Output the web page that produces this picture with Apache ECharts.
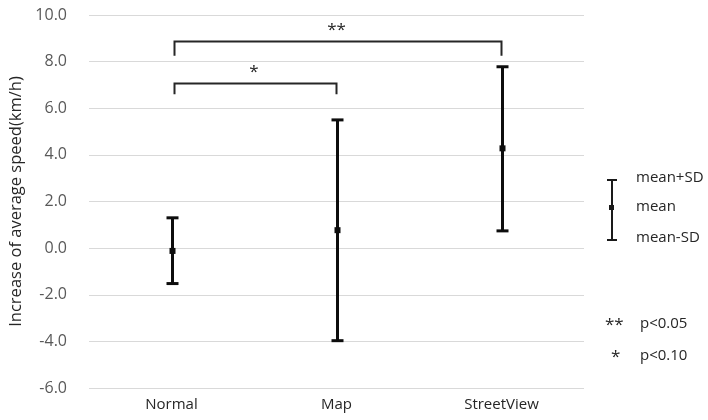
<!DOCTYPE html>
<html><head><meta charset="utf-8">
<script src="https://cdn.jsdelivr.net/npm/echarts@6/dist/echarts.min.js"></script>
<style>html,body{margin:0;padding:0;background:#fff}#c{width:708px;height:420px}</style>
</head><body><div id="c"></div>
<script>
// ---- data ----
var categories = ['Normal', 'Map', 'StreetView'];
var means = [-0.12, 0.77, 4.28];
var upper = [1.30, 5.50, 7.78];
var lower = [-1.52, -3.97, 0.74];
var yTicks = { min: -6, max: 10, interval: 2 };
// significance brackets
var bracketFrom = [0, 0];
var bracketTo = [2, 1];
var bracketLevel = [8.88, 7.10];
var bracketDrop = [8.25, 6.60];
var bracketLabel = ['**', '*'];
var yTitle = 'Increase of average speed(km/h)';

var FONT = 'Open Sans';
var errData = categories.map(function (c, i) { return [i, lower[i], means[i], upper[i]]; });
var brData = bracketFrom.map(function (f, i) { return [f, bracketTo[i], bracketLevel[i], bracketDrop[i], bracketLabel[i]]; });

var chart = echarts.init(document.getElementById('c'));
chart.setOption({
  animation: false,
  grid: { left: 89, right: 124, top: 15, bottom: 32, containLabel: false, outerBoundsMode: 'none' },
  xAxis: {
    type: 'category', data: categories,
    axisLine: { show: false }, axisTick: { show: false },
    axisLabel: { color: '#262626', fontFamily: FONT, fontSize: 15, margin: 9 }
  },
  yAxis: {
    type: 'value', min: yTicks.min, max: yTicks.max, interval: yTicks.interval,
    name: yTitle, nameLocation: 'middle', nameGap: 64,
    nameTextStyle: { color: '#262626', fontFamily: FONT, fontSize: 16.5 },
    axisLine: { show: false }, axisTick: { show: false },
    axisLabel: { color: '#595959', fontFamily: FONT, fontSize: 16, margin: 22,
      formatter: function (v) { return v.toFixed(1); } },
    splitLine: { lineStyle: { color: '#d9d9d9', width: 1 } }
  },
  series: [
    {
      type: 'custom', data: errData, encode: { x: 0, y: [1, 2, 3] },
      renderItem: function (params, api) {
        var lo = api.coord([api.value(0), api.value(1)]);
        var mid = api.coord([api.value(0), api.value(2)]);
        var hi = api.coord([api.value(0), api.value(3)]);
        var x = Math.round(lo[0]) + 0.5;
        var cw = 6;
        var st = { stroke: '#0d0d0d', lineWidth: 3 };
        return { type: 'group', children: [
          { type: 'line', shape: { x1: x, y1: hi[1], x2: x, y2: lo[1] }, style: st },
          { type: 'line', shape: { x1: x - cw, y1: hi[1], x2: x + cw, y2: hi[1] }, style: st },
          { type: 'line', shape: { x1: x - cw, y1: lo[1], x2: x + cw, y2: lo[1] }, style: st },
          { type: 'rect', shape: { x: x - 3, y: mid[1] - 3, width: 6, height: 6 }, style: { fill: '#0d0d0d' } }
        ]};
      }
    },
    {
      type: 'custom', data: brData, encode: { x: [0, 1], y: [2, 3] },
      renderItem: function (params, api) {
        var a = api.coord([api.value(0), api.value(2)]);
        var b = api.coord([api.value(1), api.value(2)]);
        var d = api.coord([api.value(0), api.value(3)]);
        var y = Math.round(a[1]) + 0.5;
        var st = { stroke: '#262626', lineWidth: 2, fill: null };
        return { type: 'group', children: [
          { type: 'polyline', shape: { points: [[a[0] + 3, d[1]], [a[0] + 3, y], [b[0], y], [b[0], d[1]]] }, style: st },
          { type: 'text', style: { text: brData[params.dataIndex][4], x: (a[0] + b[0]) / 2, y: y - 3,
            align: 'center', verticalAlign: 'bottom', fill: '#262626', fontFamily: FONT, fontSize: 17 } }
        ]};
      }
    }
  ],
  graphic: [
    { type: 'line', shape: { x1: 612, y1: 180, x2: 612, y2: 240 }, style: { stroke: '#1a1a1a', lineWidth: 2 } },
    { type: 'line', shape: { x1: 607, y1: 180, x2: 617, y2: 180 }, style: { stroke: '#1a1a1a', lineWidth: 2 } },
    { type: 'line', shape: { x1: 607, y1: 240, x2: 617, y2: 240 }, style: { stroke: '#1a1a1a', lineWidth: 2 } },
    { type: 'rect', shape: { x: 609, y: 205, width: 5, height: 5 }, style: { fill: '#1a1a1a' } },
    { type: 'text', left: 636, top: 170, style: { text: 'mean+SD', fill: '#262626', font: '15px ' + FONT } },
    { type: 'text', left: 636, top: 199, style: { text: 'mean', fill: '#262626', font: '15px ' + FONT } },
    { type: 'text', left: 636, top: 230, style: { text: 'mean-SD', fill: '#262626', font: '15px ' + FONT } },
    { type: 'text', left: 605, top: 317, style: { text: '**', fill: '#262626', font: '17px ' + FONT } },
    { type: 'text', left: 640, top: 316, style: { text: 'p<0.05', fill: '#262626', font: '15px ' + FONT } },
    { type: 'text', left: 611, top: 349, style: { text: '*', fill: '#262626', font: '17px ' + FONT } },
    { type: 'text', left: 640, top: 348, style: { text: 'p<0.10', fill: '#262626', font: '15px ' + FONT } }
  ]
});
</script></body></html>
